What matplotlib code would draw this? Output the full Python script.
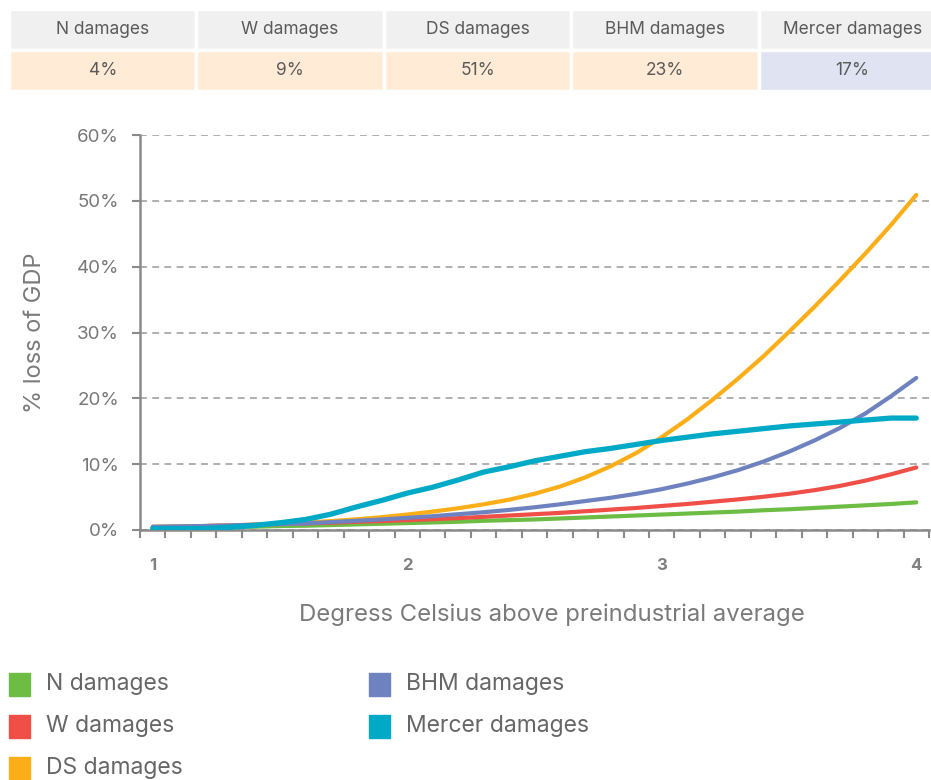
import numpy as np
import matplotlib.pyplot as plt
from matplotlib.patches import Rectangle
from matplotlib.ticker import FixedLocator

plt.rcParams['font.family'] = ['Inter', 'DejaVu Sans']

# datos (temperatura cada 0.1 grados, % de perdida de PIB)
temp = [1.0, 1.1, 1.2, 1.3, 1.4, 1.5, 1.6, 1.7, 1.8, 1.9,
        2.0, 2.1, 2.2, 2.3, 2.4, 2.5, 2.6, 2.7, 2.8, 2.9,
        3.0, 3.1, 3.2, 3.3, 3.4, 3.5, 3.6, 3.7, 3.8, 3.9, 4.0]

n_dam = [0.3, 0.35, 0.4, 0.45, 0.5, 0.6, 0.65, 0.75, 0.85, 0.95,
         1.05, 1.15, 1.25, 1.4, 1.5, 1.6, 1.75, 1.9, 2.05, 2.2,
         2.35, 2.5, 2.65, 2.8, 3.0, 3.15, 3.35, 3.55, 3.75, 3.95, 4.2]
w_dam = [0.4, 0.5, 0.6, 0.7, 0.8, 0.9, 1.0, 1.1, 1.25, 1.35,
         1.5, 1.65, 1.8, 2.0, 2.2, 2.4, 2.6, 2.85, 3.1, 3.35,
         3.65, 3.95, 4.3, 4.65, 5.05, 5.5, 6.05, 6.7, 7.5, 8.45, 9.5]
ds_dam = [0.5, 0.55, 0.6, 0.7, 0.8, 0.93, 1.12, 1.35, 1.62, 1.95,
          2.35, 2.8, 3.3, 3.9, 4.6, 5.5, 6.6, 8.0, 9.7, 11.7,
          14.1, 16.8, 19.8, 23.0, 26.4, 30.1, 33.9, 37.9, 42.0, 46.3, 50.9]
bhm_dam = [0.5, 0.55, 0.6, 0.7, 0.8, 0.9, 1.0, 1.2, 1.4, 1.6,
           1.85, 2.1, 2.4, 2.7, 3.05, 3.45, 3.9, 4.4, 4.9, 5.5,
           6.2, 7.05, 8.0, 9.1, 10.4, 11.9, 13.6, 15.5, 17.7, 20.3, 23.1]
mercer_dam = [0.2, 0.2, 0.2, 0.4, 0.7, 1.1, 1.6, 2.4, 3.5, 4.5,
              5.6, 6.5, 7.6, 8.8, 9.6, 10.5, 11.2, 11.9, 12.4, 13.0,
              13.6, 14.1, 14.6, 15.0, 15.4, 15.8, 16.1, 16.4, 16.7, 17.0, 17.0]

nombres = ['N damages', 'W damages', 'DS damages', 'BHM damages', 'Mercer damages']
series = [n_dam, w_dam, ds_dam, bhm_dam, mercer_dam]
colores = ['#6dbd45', '#ef4f47', '#fbae17', '#6f82c0', '#00a9c6']
anchos = [3.0, 3.0, 3.0, 3.0, 3.8]

# tabla de arriba
tabla_valores = ['4%', '9%', '51%', '23%', '17%']
tabla_fondo = ['#ffebd6', '#ffebd6', '#ffebd6', '#ffebd6', '#dfe3f2']

fig = plt.figure(figsize=(9.31, 7.8), dpi=100)

# --- tabla ---
axt = fig.add_axes([9 / 931, 1 - 91 / 780, 937 / 931, 82 / 780])
axt.axis('off')
colores_celdas = [['#f0f0f0'] * 5, tabla_fondo]
tab = axt.table(cellText=[nombres, tabla_valores], cellColours=colores_celdas,
                cellLoc='center', bbox=[0, 0, 1, 1])
tab.auto_set_font_size(False)
for (r, c), celda in tab.get_celld().items():
    celda.set_edgecolor('white')
    celda.set_linewidth(2.5)
    celda.get_text().set_color('#5a5a5a')
    celda.get_text().set_fontsize(12.5)

# --- grafico principal ---
ax = fig.add_axes([140 / 931, 1 - 530 / 780, 789 / 931, 395 / 780])
for datos, col, lw in zip(series, colores, anchos):
    ax.plot(temp, np.array(datos) / 100, color=col, lw=lw,
            solid_capstyle='round', solid_joinstyle='round', zorder=3)

ax.set_xlim(0.95, 4.05)
ax.set_ylim(0, 0.6)
ax.set_yticks(np.arange(0, 0.61, 0.1))
ax.set_yticklabels([f'{int(v)}%' for v in np.arange(0, 61, 10)])
ax.set_xticks([1, 2, 3, 4])
ax.set_xticklabels(['1', '2', '3', '4'], fontweight='bold')
ax.xaxis.set_minor_locator(FixedLocator(np.arange(0.95, 4.06, 0.1)))

ax.tick_params(axis='y', colors='#8a8a8a', length=6, width=1.5, pad=9,
               labelsize=13.5, labelcolor='#777777')
ax.tick_params(axis='x', which='major', length=0, pad=20,
               labelsize=12, labelcolor='#808080')
ax.tick_params(axis='x', which='minor', length=5.5, width=1.5, color='#8a8a8a')

for lado in ['top', 'right']:
    ax.spines[lado].set_visible(False)
for lado in ['left', 'bottom']:
    ax.spines[lado].set_color('#8a8a8a')
    ax.spines[lado].set_linewidth(1.8)

ax.yaxis.grid(True, linestyle=(0, (4.5, 3.5)), color='#9a9a9a', lw=1.1)
ax.set_axisbelow(True)

ax.set_ylabel('% loss of GDP', fontsize=17, color='#7a7a7a', labelpad=22)
ax.set_xlabel('Degress Celsius above preindustrial average', fontsize=17.2,
              color='#7a7a7a')
ax.xaxis.set_label_coords(0.5215, -0.186)

# --- leyenda hecha a mano (dos columnas) ---
for i, (nom, col) in enumerate(zip(nombres, colores)):
    fila = i % 3
    columna = i // 3
    x0 = 9 + columna * 360
    yc = 684 + fila * 42
    fig.add_artist(Rectangle((x0 / 931, 1 - (yc + 12) / 780), 21 / 931, 23 / 780,
                             transform=fig.transFigure, color=col))
    fig.text((x0 + 37) / 931, 1 - yc / 780, nom, fontsize=16.5,
             color='#666666', va='center', ha='left')

fig.savefig('out.png', dpi=100)
